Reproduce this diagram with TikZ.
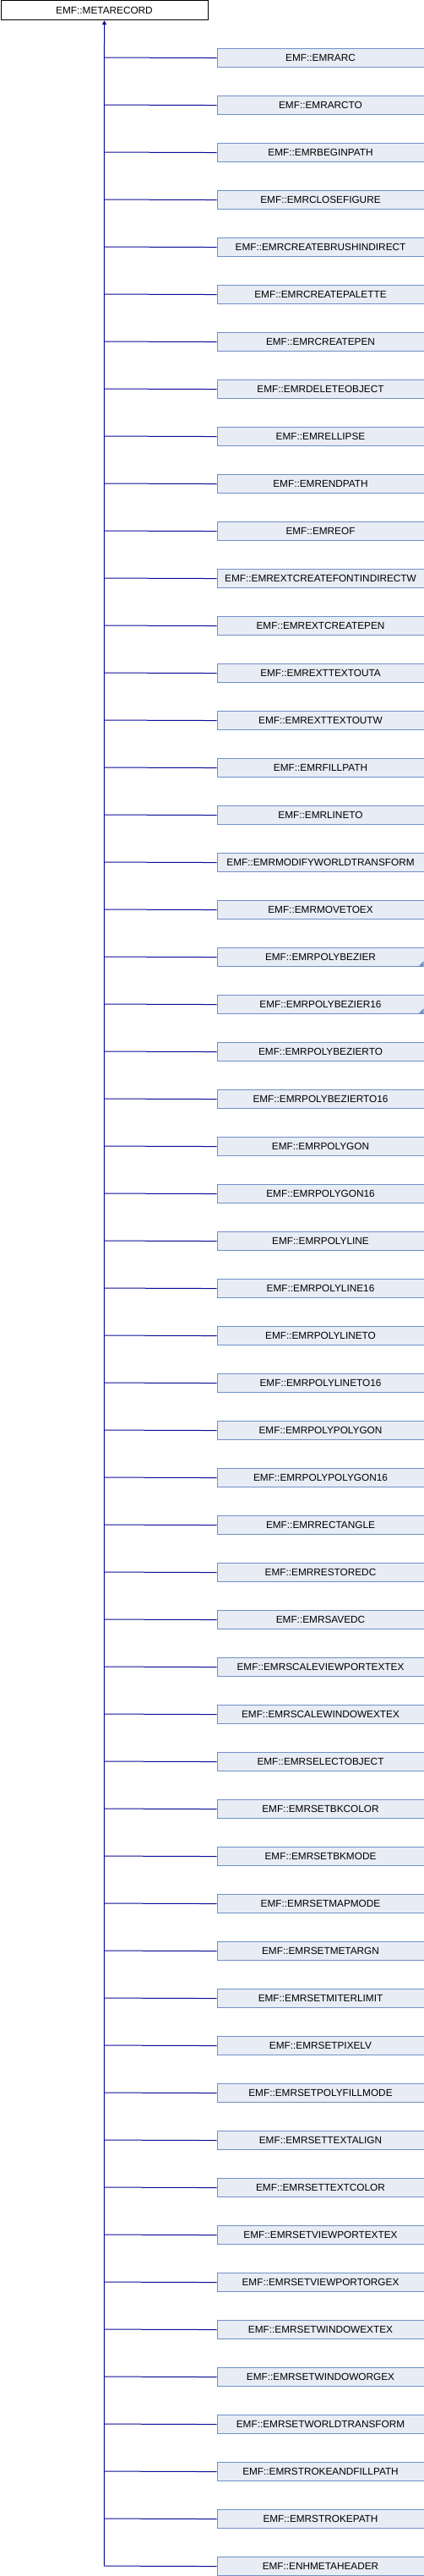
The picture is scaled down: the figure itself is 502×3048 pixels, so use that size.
\documentclass[tikz,border=0pt]{standalone}
\usepackage{fontspec}
\setmainfont{Liberation Sans}
\usetikzlibrary{arrows.meta}
\definecolor{boxfill}{HTML}{E8ECF5}
\definecolor{boxline}{HTML}{7090C8}
\definecolor{edgecol}{HTML}{0C0C96}
\begin{document}
\begin{tikzpicture}[x=1pt,y=1pt,
  cls/.style={draw=boxline,fill=boxfill,line width=1pt,minimum width=245pt,minimum height=22.7pt,inner sep=0pt,font=\fontsize{11.8}{12}\selectfont,anchor=north west},
  base/.style={draw=black,fill=white,line width=1pt,minimum width=245pt,minimum height=22.7pt,inner sep=0pt,font=\fontsize{11.8}{12}\selectfont,anchor=north west},
  edge/.style={draw=edgecol,line width=1pt},
  more/.style={path picture={\fill[boxline] ([xshift=-0.5pt,yshift=0.5pt]path picture bounding box.south east) -- ++(0,6) -- ++(-6,-6) -- cycle;}}]
\useasboundingbox (0,0) rectangle (502,-3048);
\node[base] (top) at (0.5,-0.5) {EMF::METARECORD};
\foreach \n [count=\i] in {EMRARC,EMRARCTO,EMRBEGINPATH,EMRCLOSEFIGURE,EMRCREATEBRUSHINDIRECT,EMRCREATEPALETTE,EMRCREATEPEN,EMRDELETEOBJECT,EMRELLIPSE,EMRENDPATH,EMREOF,EMREXTCREATEFONTINDIRECTW,EMREXTCREATEPEN,EMREXTTEXTOUTA,EMREXTTEXTOUTW,EMRFILLPATH,EMRLINETO,EMRMODIFYWORLDTRANSFORM,EMRMOVETOEX,EMRPOLYBEZIER,EMRPOLYBEZIER16,EMRPOLYBEZIERTO,EMRPOLYBEZIERTO16,EMRPOLYGON,EMRPOLYGON16,EMRPOLYLINE,EMRPOLYLINE16,EMRPOLYLINETO,EMRPOLYLINETO16,EMRPOLYPOLYGON,EMRPOLYPOLYGON16,EMRRECTANGLE,EMRRESTOREDC,EMRSAVEDC,EMRSCALEVIEWPORTEXTEX,EMRSCALEWINDOWEXTEX,EMRSELECTOBJECT,EMRSETBKCOLOR,EMRSETBKMODE,EMRSETMAPMODE,EMRSETMETARGN,EMRSETMITERLIMIT,EMRSETPIXELV,EMRSETPOLYFILLMODE,EMRSETTEXTALIGN,EMRSETTEXTCOLOR,EMRSETVIEWPORTEXTEX,EMRSETVIEWPORTORGEX,EMRSETWINDOWEXTEX,EMRSETWINDOWORGEX,EMRSETWORLDTRANSFORM,EMRSTROKEANDFILLPATH,EMRSTROKEPATH} {
  \pgfmathsetmacro{\yy}{-56.7-56*(\i-1)}
  \ifnum\i=20 \node[cls,more] (c\i) at (256.5,\yy) {EMF::\n};
  \else\ifnum\i=21 \node[cls,more] (c\i) at (256.5,\yy) {EMF::\n};
  \else \node[cls] (c\i) at (256.5,\yy) {EMF::\n};\fi\fi
  \coordinate (j\i) at (123.3,\yy-11.35);
  \draw[edge] (j\i) -- (c\i.west);
}
\node[cls] (c54) at (256.5,-3024.7) {EMF::ENHMETAHEADER};
\coordinate (j54) at (123.3,-3036.05);
\draw[edge] (j54) -- (c54.west);
\draw[edge,-{Triangle[width=5pt,length=5pt]}] (j54) -- (top.south);
\end{tikzpicture}
\end{document}
